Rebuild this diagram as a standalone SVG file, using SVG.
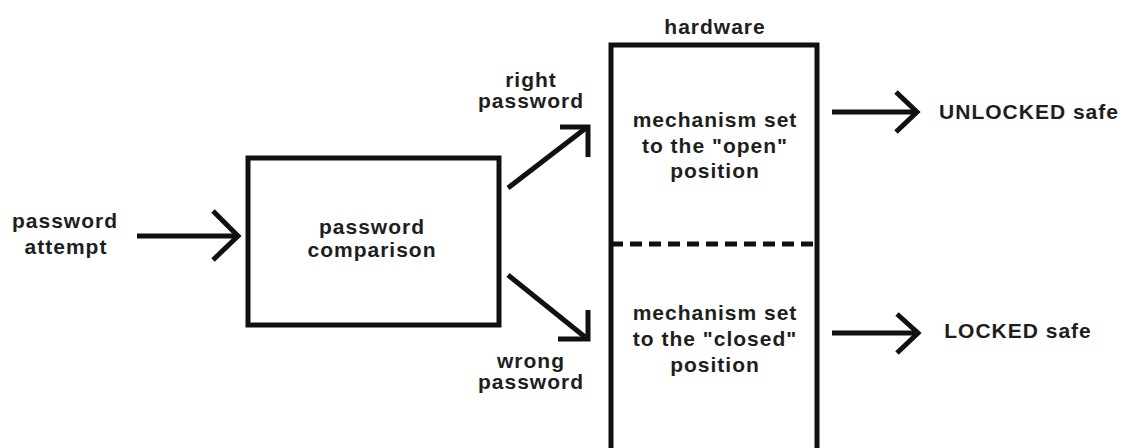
<svg xmlns="http://www.w3.org/2000/svg" width="1123" height="448" viewBox="0 0 1123 448">
<style>
.t{font-family:"Liberation Sans",Arial,sans-serif;font-weight:bold;font-size:21px;letter-spacing:1px;fill:#1e1e1e;text-anchor:middle}
.s{fill:none;stroke:#111;stroke-width:5}
.c{fill:none;stroke:#111;stroke-width:5;stroke-linecap:butt;stroke-linejoin:miter}
</style>
<rect width="1123" height="448" fill="#fff"/>
<g id="input">
<text class="t" x="65" y="228">password</text>
<text class="t" x="66" y="254">attempt</text>
</g>
<g id="comparison">
<rect class="s" x="248" y="158" width="251" height="167"/>
<text class="t" x="372" y="234">password</text>
<text class="t" x="372" y="257">comparison</text>
</g>
<g id="hardware">
<text class="t" x="715" y="34">hardware</text>
<path class="s" d="M611,448 V45 H817 V448"/>
<line x1="611" y1="244" x2="817" y2="244" stroke="#111" stroke-width="5" stroke-dasharray="12 7"/>
<text class="t" x="715" y="127">mechanism set</text>
<text class="t" x="715" y="153">to the "open"</text>
<text class="t" x="715" y="178">position</text>
<text class="t" x="715" y="320">mechanism set</text>
<text class="t" x="715" y="346">to the "closed"</text>
<text class="t" x="715" y="372">position</text>
</g>
<g id="unlocked">
<text class="t" x="1029" y="119">UNLOCKED safe</text>
</g>
<g id="locked">
<text class="t" x="1018" y="338">LOCKED safe</text>
</g>
<g id="labels">
<text class="t" x="531" y="87">right</text>
<text class="t" x="531" y="108">password</text>
<text class="t" x="531" y="368">wrong</text>
<text class="t" x="531" y="389">password</text>
</g>
<g id="connectors">
<line class="c" x1="137" y1="236" x2="236" y2="236"/>
<polyline class="c" points="213,211 238,236 213,260"/>
<line class="c" x1="508" y1="188" x2="586" y2="128"/>
<polyline class="c" points="560,127 588,127 588,157"/>
<line class="c" x1="508" y1="275" x2="585" y2="337"/>
<polyline class="c" points="558,339 588,339 588,310"/>
<line class="c" x1="832" y1="112" x2="915" y2="112"/>
<polyline class="c" points="896,92 917,112 896,132"/>
<line class="c" x1="832" y1="333" x2="915" y2="333"/>
<polyline class="c" points="897,314 918,333 897,353"/>
</g>
</svg>
